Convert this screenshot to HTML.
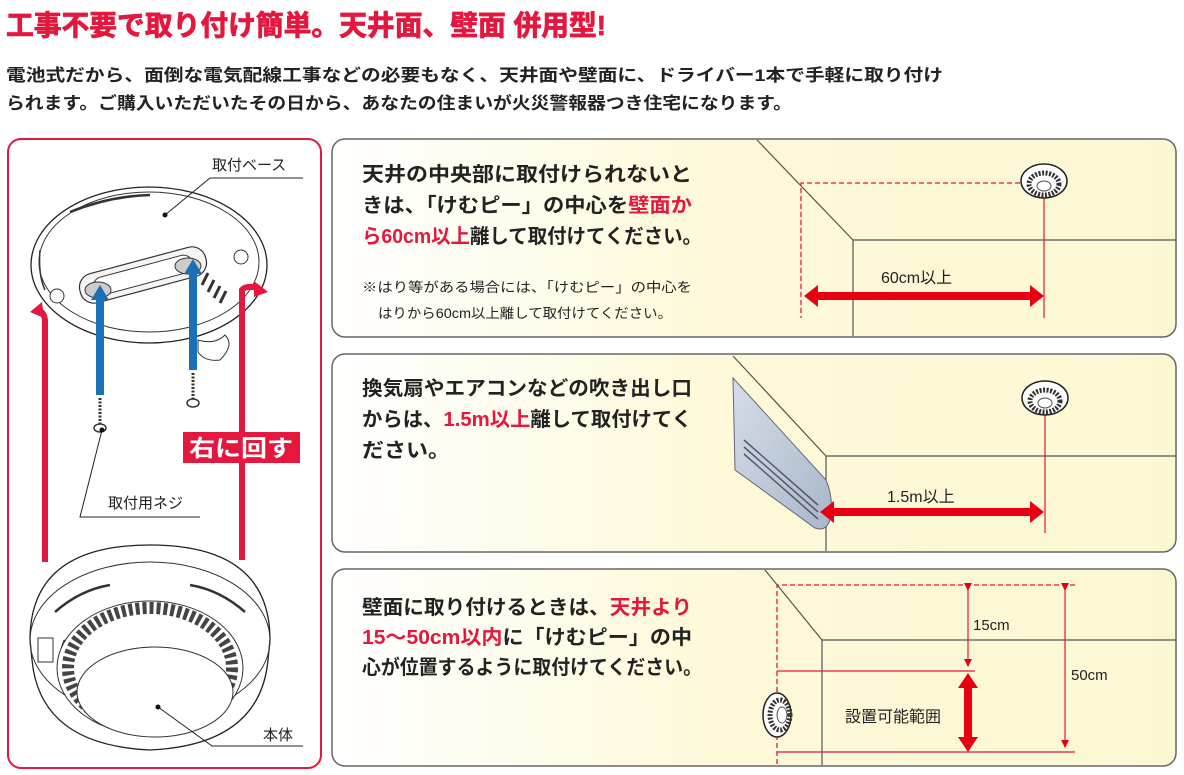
<!DOCTYPE html>
<html><head><meta charset="utf-8"><style>
html,body{margin:0;padding:0;background:#fff;}
svg{display:block;font-family:"Liberation Sans","Noto Sans CJK JP",sans-serif;}
</style></head><body>
<svg width="1184" height="775" viewBox="0 0 1184 775" xmlns="http://www.w3.org/2000/svg">
<defs>
<linearGradient id="pg" x1="0" x2="1" y1="0" y2="0">
<stop offset="0" stop-color="#ffffff"/><stop offset="0.45" stop-color="#fdf9d9"/><stop offset="1" stop-color="#fcf7d3"/>
</linearGradient>
<linearGradient id="ac" x1="0" x2="1" y1="0" y2="1">
<stop offset="0" stop-color="#d5dde8"/><stop offset="1" stop-color="#a9b7c9"/>
</linearGradient>
<marker id="ah" markerWidth="8" markerHeight="8" refX="7" refY="4" orient="auto" markerUnits="userSpaceOnUse"><path d="M0,0 L8,4 L0,8 Z" fill="#e60012"/></marker>
</defs>

<!-- Header -->
<text x="6" y="35" font-size="28" font-weight="bold" fill="#e4173e" stroke="#e4173e" stroke-width="0.8" textLength="600" lengthAdjust="spacingAndGlyphs">工事不要で取り付け簡単。天井面、壁面 併用型!</text>
<text x="6" y="81" font-size="17" font-weight="bold" fill="#222" textLength="937" lengthAdjust="spacingAndGlyphs">電池式だから、面倒な電気配線工事などの必要もなく、天井面や壁面に、ドライバー1本で手軽に取り付け</text>
<text x="6" y="109" font-size="17" font-weight="bold" fill="#222" textLength="786" lengthAdjust="spacingAndGlyphs">られます。ご購入いただいたその日から、あなたの住まいが火災警報器つき住宅になります。</text>

<!-- Left panel -->
<rect x="8" y="139" width="313" height="629" rx="13" fill="#fff" stroke="#e4173e" stroke-width="2"/>
<ellipse cx="149" cy="265" rx="118" ry="78" fill="#fff" stroke="#222" stroke-width="1.3"/>
<ellipse cx="149" cy="262" rx="110" ry="70" fill="none" stroke="#333" stroke-width="1"/>
<path d="M70,212 Q110,196 150,195" fill="none" stroke="#333" stroke-width="2.5"/>
<path d="M40,250 Q38,275 45,290" fill="none" stroke="#333" stroke-width="1.5"/>
<rect x="78" y="260" width="130" height="30" rx="14" transform="rotate(-15 143 275)" fill="#f4f4f4" stroke="#333" stroke-width="1.2"/>
<rect x="92" y="266" width="102" height="18" rx="9" transform="rotate(-15 143 275)" fill="#fff" stroke="#333" stroke-width="1"/>
<ellipse cx="98" cy="290" rx="13" ry="8" fill="#ccc" stroke="#333"/>
<ellipse cx="188" cy="266" rx="13" ry="8" fill="#ccc" stroke="#333"/>
<path d="M202,285 l6,-12 M208,292 l6,-12 M214,298 l6,-12 M220,303 l6,-12" stroke="#333" stroke-width="3" fill="none"/>
<path d="M198,340 Q215,345 225,335 Q235,345 220,360 Q205,362 198,352 Z" fill="#fff" stroke="#333"/>
<circle cx="57" cy="296" r="7" fill="#fff" stroke="#333"/>
<circle cx="241" cy="257" r="7" fill="#fff" stroke="#333"/>
<line x1="100" y1="398" x2="100" y2="425" stroke="#333" stroke-width="3" stroke-dasharray="2,1.5"/>
<ellipse cx="100" cy="428" rx="6" ry="4" fill="#fff" stroke="#333" stroke-width="1.5"/>
<line x1="193" y1="373" x2="193" y2="400" stroke="#333" stroke-width="3" stroke-dasharray="2,1.5"/>
<ellipse cx="193" cy="403" rx="6" ry="4" fill="#fff" stroke="#333" stroke-width="1.5"/>
<path d="M96,395 L96,300 L91,300 L100,285 L109,300 L104,300 L104,395 Z" fill="#1a6fb5"/>
<path d="M189,370 L189,274 L184,274 L193,259 L202,274 L197,274 L197,370 Z" fill="#1a6fb5"/>
<path d="M45,562 L45,320 Q44,312 38,310" fill="none" stroke="#e4173e" stroke-width="6"/>
<path d="M30,312 L42,302 L44,318 Z" fill="#e4173e"/>
<path d="M242,560 L242,290 Q246,285 258,288" fill="none" stroke="#e4173e" stroke-width="6"/>
<path d="M268,292 L254,281 L254,297 Z" fill="#e4173e"/>
<rect x="183" y="432" width="117" height="31" fill="#e4173e"/>
<text x="241" y="456" font-size="23" font-weight="bold" fill="#fff" text-anchor="middle" textLength="104" lengthAdjust="spacingAndGlyphs">右に回す</text>
<path d="M30,640 Q30,545 150,545 Q270,545 270,640 L268,660 Q260,745 150,750 Q40,745 32,660 Z" fill="#fff" stroke="#222" stroke-width="1.3"/>
<ellipse cx="150" cy="640" rx="120" ry="78" fill="none" stroke="#333" stroke-width="1"/>
<path d="M55,612 Q80,590 110,585 M190,585 Q220,590 245,612 M62,660 Q60,650 65,640" fill="none" stroke="#333" stroke-width="2.5"/>
<ellipse cx="150" cy="668" rx="93" ry="67" fill="#fff" stroke="#333"/>
<ellipse cx="150" cy="668" rx="82" ry="60" fill="none" stroke="#444" stroke-width="12" stroke-dasharray="4,3"/>
<ellipse cx="155" cy="692" rx="78" ry="45" fill="#fff" stroke="#333"/>
<rect x="38" y="638" width="15" height="24" fill="#fff" stroke="#333"/>
<text x="212" y="170" font-size="15" fill="#222">取付ベース</text>
<polyline points="165,215 210,178 303,178" fill="none" stroke="#222"/>
<circle cx="165" cy="215" r="2.5" fill="#111"/>
<text x="108" y="508" font-size="15" fill="#222">取付用ネジ</text>
<polyline points="102,430 80,517 200,517" fill="none" stroke="#222"/>
<circle cx="102" cy="430" r="2.5" fill="#111"/>
<text x="263" y="740" font-size="15" fill="#222">本体</text>
<polyline points="158,707 212,746 303,746" fill="none" stroke="#222"/>
<circle cx="158" cy="707" r="2.5" fill="#111"/>

<!-- Panel 1 -->
<rect x="332" y="139" width="844" height="198" rx="13" fill="url(#pg)" stroke="#666" stroke-width="1.5"/>
<polyline points="757,140 853,240 1176,240" fill="none" stroke="#555" stroke-width="1.2"/>
<line x1="853" y1="240" x2="853" y2="336" stroke="#555" stroke-width="1.2"/>
<polyline points="1020,183 801,183 801,318" fill="none" stroke="#e4173e" stroke-width="1.3" stroke-dasharray="5,3"/>
<line x1="1044" y1="195" x2="1044" y2="318" stroke="#e4173e" stroke-width="1.2"/>
<ellipse cx="1044" cy="181" rx="23" ry="17" fill="#fff" stroke="#222" stroke-width="1.5"/>
<ellipse cx="1044" cy="184" rx="15" ry="11" fill="#fff" stroke="#333" stroke-width="5" stroke-dasharray="2,1.5"/>
<ellipse cx="1044" cy="186" rx="7" ry="5" fill="#fff" stroke="#555"/>
<path d="M804,296 L818,285 L818,292 L1030,292 L1030,285 L1044,296 L1030,307 L1030,300 L818,300 L818,307 Z" fill="#e60012"/>
<text x="881" y="283" font-size="16" fill="#222">60cm以上</text>
<text font-size="20" font-weight="bold" fill="#222">
<tspan x="362" y="181" textLength="330" lengthAdjust="spacingAndGlyphs">天井の中央部に取付けられないと</tspan>
<tspan x="362" y="212" textLength="330" lengthAdjust="spacingAndGlyphs">きは、「けむピー」の中心を<tspan fill="#e4173e">壁面か</tspan></tspan>
<tspan x="362" y="243" textLength="340" lengthAdjust="spacingAndGlyphs"><tspan fill="#e4173e">ら60cm以上</tspan>離して取付けてください。</tspan>
</text>
<text x="362" y="292" font-size="13.5" fill="#222" textLength="330" lengthAdjust="spacingAndGlyphs">※はり等がある場合には、「けむピー」の中心を</text>
<text x="378" y="318" font-size="13.5" fill="#222" textLength="294" lengthAdjust="spacingAndGlyphs">はりから60cm以上離して取付けてください。</text>

<!-- Panel 2 -->
<rect x="332" y="354" width="844" height="198" rx="13" fill="url(#pg)" stroke="#666" stroke-width="1.5"/>
<polyline points="733,356 826,456 1176,456" fill="none" stroke="#555" stroke-width="1.2"/>
<line x1="826" y1="456" x2="826" y2="551" stroke="#555" stroke-width="1.2"/>
<path d="M733,378 L826,480 Q834,498 830,520 Q826,532 815,528 L735,470 Z" fill="url(#ac)" stroke="#667" stroke-width="1"/>
<path d="M744,440 L818,505 M744,447 L818,512 M744,454 L818,519" stroke="#556" stroke-width="1.5"/>
<line x1="1045" y1="410" x2="1045" y2="533" stroke="#e4173e" stroke-width="1.2"/>
<ellipse cx="1045" cy="398" rx="23" ry="17" fill="#fff" stroke="#222" stroke-width="1.5"/>
<ellipse cx="1045" cy="401" rx="15" ry="11" fill="#fff" stroke="#333" stroke-width="5" stroke-dasharray="2,1.5"/>
<ellipse cx="1045" cy="403" rx="7" ry="5" fill="#fff" stroke="#555"/>
<path d="M820,512 L834,501 L834,508 L1030,508 L1030,501 L1044,512 L1030,523 L1030,516 L834,516 L834,523 Z" fill="#e60012"/>
<text x="887" y="502" font-size="16" fill="#222">1.5m以上</text>
<text font-size="20" font-weight="bold" fill="#222">
<tspan x="362" y="395" textLength="330" lengthAdjust="spacingAndGlyphs">換気扇やエアコンなどの吹き出し口</tspan>
<tspan x="362" y="426" textLength="330" lengthAdjust="spacingAndGlyphs">からは、<tspan fill="#e4173e">1.5m以上</tspan>離して取付けてく</tspan>
<tspan x="362" y="457" textLength="88" lengthAdjust="spacingAndGlyphs">ださい。</tspan>
</text>

<!-- Panel 3 -->
<rect x="332" y="569" width="844" height="197" rx="13" fill="url(#pg)" stroke="#666" stroke-width="1.5"/>
<polyline points="765,570 822,640 1176,640" fill="none" stroke="#555" stroke-width="1.2"/>
<line x1="822" y1="640" x2="822" y2="765" stroke="#555" stroke-width="1.2"/>
<polyline points="1075,585 777,585 777,766" fill="none" stroke="#e4173e" stroke-width="1.3" stroke-dasharray="5,3"/>
<line x1="777" y1="671" x2="975" y2="671" stroke="#e4173e" stroke-width="1.2"/>
<line x1="777" y1="752" x2="1075" y2="752" stroke="#e4173e" stroke-width="1.2"/>
<line x1="968" y1="590" x2="968" y2="666" stroke="#e4173e" stroke-width="1.2" marker-start="url(#ah)" marker-end="url(#ah)"/>
<line x1="1065" y1="590" x2="1065" y2="747" stroke="#e4173e" stroke-width="1.2" marker-start="url(#ah)" marker-end="url(#ah)"/>
<path d="M968,673 L978,688 L972,688 L972,737 L978,737 L968,752 L958,737 L964,737 L964,688 L958,688 Z" fill="#e60012"/>
<ellipse cx="777" cy="715" rx="14" ry="22" fill="#fff" stroke="#222" stroke-width="1.5"/>
<ellipse cx="780" cy="715" rx="10" ry="15" fill="#fff" stroke="#333" stroke-width="5" stroke-dasharray="2,1.5"/>
<ellipse cx="782" cy="715" rx="5" ry="8" fill="#fff" stroke="#555"/>
<text x="973" y="630" font-size="15" fill="#222">15cm</text>
<text x="1071" y="680" font-size="15" fill="#222">50cm</text>
<text x="845" y="722" font-size="16" fill="#222">設置可能範囲</text>
<text font-size="20" font-weight="bold" fill="#222">
<tspan x="362" y="614" textLength="330" lengthAdjust="spacingAndGlyphs">壁面に取り付けるときは、<tspan fill="#e4173e">天井より</tspan></tspan>
<tspan x="362" y="644" textLength="330" lengthAdjust="spacingAndGlyphs"><tspan fill="#e4173e">15〜50cm以内</tspan>に「けむピー」の中</tspan>
<tspan x="362" y="674" textLength="340" lengthAdjust="spacingAndGlyphs">心が位置するように取付けてください。</tspan>
</text>
</svg>
</body></html>
